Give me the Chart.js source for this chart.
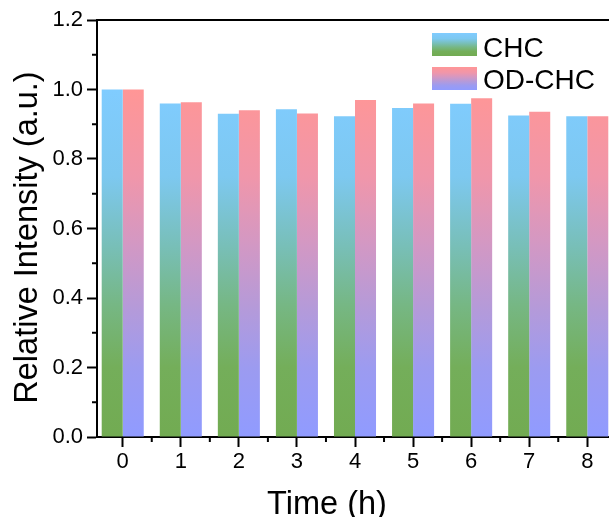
<!DOCTYPE html>
<html lang="en">
  <head>
    <meta charset="UTF-8" />
    <title>Relative Intensity vs Time</title>
    <style>
      * {
        margin: 0;
        padding: 0;
        box-sizing: border-box;
      }

      html,
      body {
        width: 609px;
        height: 517px;
        overflow: hidden;
        background: #fff;
      }

      #chart {
        display: block;
      }
    </style>
  </head>

  <body>
    <canvas id="chart" width="630" height="517"></canvas>

    <script src="https://cdn.jsdelivr.net/npm/chart.js@4.4.0/dist/chart.umd.min.js"></script>
    <script>
      // Data
      const times = [0, 1, 2, 3, 4, 5, 6, 7, 8];
      const chc = [1.0, 0.96, 0.93, 0.943, 0.923, 0.947, 0.959, 0.925, 0.923];
      const odChc = [1.0, 0.963, 0.94, 0.931, 0.97, 0.96, 0.975, 0.936, 0.923];
      const yTicks = [0, 0.2, 0.4, 0.6, 0.8, 1.0, 1.2];
      const seriesNames = ["CHC", "OD-CHC"];

      const FONT = "'Liberation Sans', Arial, sans-serif";

      // Gradient stops (top -> bottom)
      const chcStops = [
        [0, "#80ccff"],
        [0.25, "#7dc8f0"],
        [0.45, "#78bfb8"],
        [0.62, "#76b784"],
        [0.8, "#74ae5a"],
        [1, "#72ab52"],
      ];
      const odStops = [
        [0, "#ff9696"],
        [0.25, "#f096aa"],
        [0.45, "#d298c4"],
        [0.62, "#b69ad8"],
        [0.8, "#9c9bf0"],
        [1, "#909bff"],
      ];

      function makeGradient(ctx, top, bottom, stops) {
        const g = ctx.createLinearGradient(0, top, 0, bottom);
        stops.forEach((s) => g.addColorStop(s[0], s[1]));
        return g;
      }

      // Bar fill, gradient runs from 1.0 down to 0 on the y scale
      function barFill(stops) {
        return (context) => {
          const chart = context.chart;
          const y = chart.scales.y;
          if (!chart.chartArea || !y) return stops[0][1];
          return makeGradient(
            chart.ctx,
            y.getPixelForValue(1.0),
            y.getPixelForValue(0),
            stops
          );
        };
      }

      // Frame line, minor ticks, axis titles and legend
      const decorations = {
        id: "decorations",
        afterDraw(chart) {
          const { ctx, chartArea } = chart;
          const x = chart.scales.x,
            y = chart.scales.y;
          ctx.save();
          ctx.strokeStyle = "#000";
          ctx.lineWidth = 2;

          ctx.beginPath();
          ctx.moveTo(chartArea.left - 1, chartArea.top);
          ctx.lineTo(chartArea.right, chartArea.top);
          ctx.stroke();

          // minor ticks halfway between major ones
          ctx.beginPath();
          for (let i = 0; i < yTicks.length - 1; i++) {
            const p = y.getPixelForValue((yTicks[i] + yTicks[i + 1]) / 2);
            ctx.moveTo(chartArea.left, p);
            ctx.lineTo(chartArea.left - 5, p);
          }
          for (let i = 0; i < times.length - 1; i++) {
            const p = x.getPixelForValue((times[i] + times[i + 1]) / 2);
            ctx.moveTo(p, chartArea.bottom);
            ctx.lineTo(p, chartArea.bottom + 5);
          }
          ctx.stroke();

          // axis titles
          ctx.fillStyle = "#000";
          ctx.font = "32.5px " + FONT;
          ctx.textAlign = "center";
          ctx.textBaseline = "alphabetic";
          ctx.fillText("Time (h)", 327, 514);

          ctx.save();
          ctx.translate(37, 237.5);
          ctx.rotate(-Math.PI / 2);
          ctx.fillText("Relative Intensity (a.u.)", 0, 0);
          ctx.restore();

          // legend
          const boxes = [
            { top: 33, stops: chcStops, base: 57 },
            { top: 67, stops: odStops, base: 88.5 },
          ];
          ctx.font = "28px " + FONT;
          ctx.textAlign = "left";
          boxes.forEach((b, i) => {
            ctx.fillStyle = makeGradient(ctx, b.top, b.top + 23, b.stops);
            ctx.fillRect(432, b.top, 45, 23);
            ctx.fillStyle = "#000";
            ctx.fillText(seriesNames[i], 483, b.base);
          });
          ctx.restore();
        },
      };

      const axisStyle = {
        grid: {
          drawOnChartArea: false,
          drawTicks: true,
          offset: false,
          tickLength: 10,
          tickWidth: 2,
          tickColor: "#000",
        },
        border: { display: true, color: "#000", width: 2 },
      };

      new Chart(document.getElementById("chart"), {
        type: "bar",
        data: {
          labels: times,
          datasets: [
            {
              label: seriesNames[0],
              data: chc,
              backgroundColor: barFill(chcStops),
              borderWidth: 0,
            },
            {
              label: seriesNames[1],
              data: odChc,
              backgroundColor: barFill(odStops),
              borderWidth: 0,
            },
          ],
        },
        options: {
          responsive: false,
          animation: false,
          devicePixelRatio: 1,
          events: [],
          categoryPercentage: 0.724,
          barPercentage: 1,
          layout: { padding: { top: 20, right: 17, left: 0, bottom: 0 } },
          plugins: {
            legend: { display: false },
            tooltip: { enabled: false },
          },
          scales: {
            x: {
              type: "linear",
              min: -0.443,
              max: 8.443,
              offset: false,
              ...axisStyle,
              afterBuildTicks: (scale) => {
                scale.ticks = times.map((v) => ({ value: v }));
              },
              afterFit: (scale) => {
                scale.height = 80;
              },
              ticks: {
                color: "#000",
                font: { family: FONT, size: 22 },
                padding: 2,
                maxRotation: 0,
              },
            },
            y: {
              min: 0,
              max: 1.2,
              ...axisStyle,
              afterBuildTicks: (scale) => {
                scale.ticks = yTicks.map((v) => ({ value: v }));
              },
              afterFit: (scale) => {
                scale.width = 97;
              },
              ticks: {
                color: "#000",
                font: { family: FONT, size: 22 },
                padding: 4,
                callback: (v) => Number(v).toFixed(1),
              },
            },
          },
        },
        plugins: [decorations],
      });
    </script>
  </body>
</html>
